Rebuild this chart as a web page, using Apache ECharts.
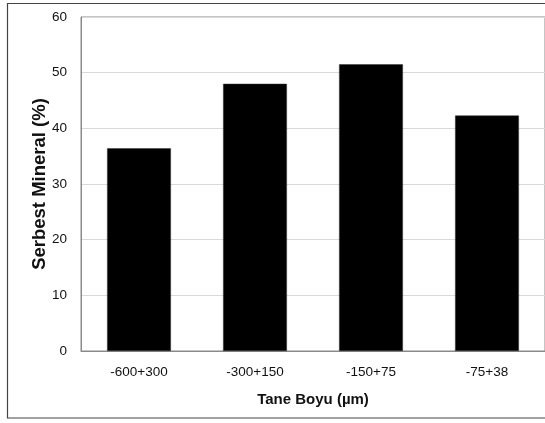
<!DOCTYPE html>
<html><head><meta charset="utf-8">
<script src="https://cdn.jsdelivr.net/npm/echarts@6/dist/echarts.min.js"></script>
<style>html,body{margin:0;padding:0;background:#fff}#c{width:545px;height:423px}</style>
</head><body><div id="c"></div>
<script>
const categories = ['-600+300', '-300+150', '-150+75', '-75+38'];
const values = [36.4, 48.0, 51.5, 42.3];
const yTicks = [0, 10, 20, 30, 40, 50, 60];

const chart = echarts.init(document.getElementById('c'), null, {renderer: 'canvas'});
const font = 'Liberation Sans, Arial, sans-serif';
chart.setOption({
  animation: false,
  backgroundColor: '#fff',
  graphic: [{
    type: 'rect', shape: {x: 7.5, y: 3.5, width: 545, height: 414.5},
    style: {fill: 'none', stroke: '#444', lineWidth: 1.2}, silent: true
  }],
  grid: {left: 81, top: 17, width: 465, height: 334, show: true, borderColor: '#8a8a8a', borderWidth: 1, backgroundColor: 'transparent'},
  xAxis: {
    type: 'category', data: categories,
    axisLine: {lineStyle: {color: '#8a8a8a', width: 1}},
    axisTick: {show: false},
    axisLabel: {color: '#111', fontFamily: font, fontSize: 13.5, margin: 14},
    name: 'Tane Boyu (µm)', nameLocation: 'middle', nameGap: 41, nameMoveOverlap: false,
    nameTextStyle: {color: '#111', fontFamily: font, fontSize: 15, fontWeight: 'bold'}
  },
  yAxis: {
    type: 'value', min: yTicks[0], max: yTicks[yTicks.length - 1], interval: 10,
    axisLine: {show: true, lineStyle: {color: '#8a8a8a', width: 1}},
    axisTick: {show: false},
    splitLine: {lineStyle: {color: '#d9d9d9', width: 1}},
    axisLabel: {color: '#111', fontFamily: font, fontSize: 13.5, margin: 14},
    name: 'Serbest Mineral (%)', nameLocation: 'middle', nameGap: 32, nameMoveOverlap: false,
    nameTextStyle: {color: '#111', fontFamily: font, fontSize: 18.5, fontWeight: 'bold'}
  },
  series: [{
    type: 'bar', data: values, barWidth: '55%',
    itemStyle: {color: '#000', borderColor: '#333', borderWidth: 0.5}
  }]
});
</script></body></html>
